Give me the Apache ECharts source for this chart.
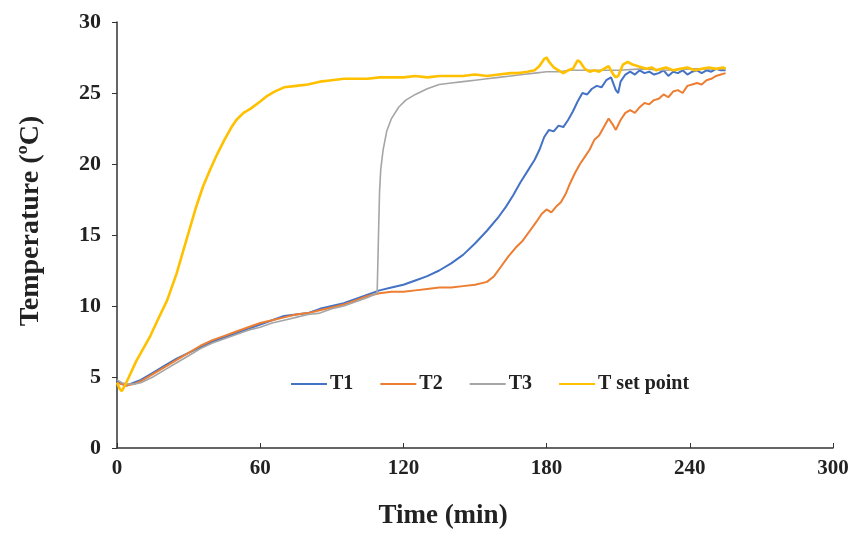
<!DOCTYPE html>
<html>
<head>
<meta charset="utf-8">
<script src="https://cdn.jsdelivr.net/npm/echarts@6/dist/echarts.min.js"></script>
<style>html,body{margin:0;padding:0;background:#fff}#c{width:856px;height:535px}</style>
</head>
<body>
<div id="c"></div>
<script>
const seriesNames = ['T1', 'T2', 'T3', 'T set point'];
const xTicks = [0, 60, 120, 180, 240, 300];
const yTicks = [0, 5, 10, 15, 20, 25, 30];

const t1Time = [0,2,4,7,10,15,20,25,30,35,40,45,50,55,60,65,70,75,80,85,90,95,100,105,110,115,120,125,130,135,140,145,150,155,160,163,166,169,172,175,177,179,181,183,185,187,189,191,193,195,197,199,201,203,205,207,209,210,211,213,215,217,219,221,223,225,227,229,231,233,235,237,239,241,243,245,247,249,251,253,255];
const t1Temp = [4.7,4.5,4.4,4.6,4.8,5.3,5.8,6.3,6.7,7.1,7.5,7.8,8.1,8.4,8.7,9.0,9.3,9.4,9.5,9.8,10.0,10.2,10.5,10.8,11.1,11.3,11.5,11.8,12.1,12.5,13.0,13.6,14.4,15.3,16.3,17.0,17.8,18.7,19.5,20.3,21.0,21.9,22.4,22.3,22.7,22.6,23.1,23.7,24.4,25.0,24.9,25.3,25.5,25.4,25.9,26.1,25.2,25.0,25.8,26.3,26.5,26.3,26.6,26.4,26.5,26.3,26.4,26.6,26.2,26.5,26.4,26.6,26.3,26.5,26.6,26.4,26.6,26.5,26.7,26.6,26.6];

const t2Time = [0,2,4,7,10,15,20,25,30,35,40,45,50,55,60,65,70,75,80,85,90,95,100,105,110,115,120,125,130,135,140,145,150,155,158,161,164,167,170,173,176,178,180,182,184,186,188,190,192,194,196,198,200,202,204,206,208,209,211,213,215,217,219,221,223,225,227,229,231,233,235,237,239,241,243,245,247,249,251,253,255];
const t2Temp = [4.6,4.5,4.4,4.5,4.7,5.2,5.7,6.2,6.7,7.2,7.6,7.9,8.2,8.5,8.8,9.0,9.2,9.4,9.5,9.7,9.9,10.1,10.4,10.7,10.9,11.0,11.0,11.1,11.2,11.3,11.3,11.4,11.5,11.7,12.1,12.8,13.5,14.1,14.6,15.3,16.0,16.5,16.8,16.6,17.0,17.3,17.9,18.7,19.4,20.0,20.5,21.0,21.7,22.0,22.6,23.2,22.7,22.4,23.1,23.6,23.8,23.6,24.0,24.3,24.2,24.5,24.6,24.9,24.7,25.1,25.2,25.0,25.5,25.6,25.7,25.6,25.9,26.0,26.2,26.3,26.4];

const t3Time = [0,2,4,7,10,15,20,25,30,35,40,45,50,55,60,65,70,75,80,85,90,95,100,105,109,109.5,110,110.5,111.5,113,115,118,121,125,130,135,140,145,150,155,160,165,170,175,180,185,190,200,210,220,230,240,250,255];
const t3Temp = [4.8,4.6,4.5,4.5,4.6,5.0,5.5,6.0,6.5,7.0,7.4,7.7,8.0,8.3,8.5,8.8,9.0,9.2,9.4,9.5,9.8,10.0,10.3,10.6,10.9,14.5,18.0,19.6,21.0,22.3,23.2,24.0,24.5,24.9,25.3,25.6,25.7,25.8,25.9,26.0,26.1,26.2,26.3,26.4,26.5,26.5,26.6,26.6,26.6,26.7,26.6,26.7,26.7,26.7];

const tsTime = [0,1,2,3,5,8,11,14,17,21,25,29,33,36,39,42,45,48,50,53,56,60,63,66,70,75,80,85,90,95,100,105,110,115,120,125,130,135,140,145,150,155,160,165,168,172,175,177,179,180,181,183,185,187,189,191,192,193,194,196,198,200,202,204,206,207,208,209,210,211,212,214,216,218,220,222,224,226,228,230,233,236,239,242,245,248,251,254,255];
const tsTemp = [4.6,4.2,4.0,4.3,5.0,6.1,7.0,7.9,9.0,10.4,12.3,14.6,16.9,18.4,19.6,20.7,21.7,22.6,23.1,23.6,23.9,24.4,24.8,25.1,25.4,25.5,25.6,25.8,25.9,26.0,26.0,26.0,26.1,26.1,26.1,26.2,26.1,26.2,26.2,26.2,26.3,26.2,26.3,26.4,26.4,26.5,26.6,26.9,27.4,27.5,27.2,26.8,26.6,26.4,26.6,26.7,27.0,27.3,27.2,26.7,26.5,26.6,26.5,26.7,26.9,26.6,26.3,26.1,26.2,26.6,27.0,27.2,27.0,26.9,26.8,26.7,26.8,26.6,26.7,26.8,26.6,26.7,26.8,26.6,26.7,26.8,26.7,26.8,26.7];

const colors = ['#4472C4', '#ED7D31', '#A5A5A5', '#FFC000'];
const widths = [2, 2, 1.6, 2.6];

function pairs(ts, vs) { return ts.map((t, i) => [t, vs[i]]); }
const allData = [pairs(t1Time, t1Temp), pairs(t2Time, t2Temp), pairs(t3Time, t3Temp), pairs(tsTime, tsTemp)];

const serif = '"Liberation Serif", "Times New Roman", serif';
const chart = echarts.init(document.getElementById('c'), null, {renderer: 'canvas'});
chart.setOption({
  animation: false,
  backgroundColor: '#ffffff',
  grid: {left: 117, right: 23, top: 22, bottom: 83, containLabel: false},
  legend: {
    data: seriesNames,
    icon: 'rect',
    left: 286, top: 369,
    itemWidth: 36, itemHeight: 2, itemGap: 27,
    textStyle: {fontFamily: serif, fontWeight: 'bold', fontSize: 20, color: '#222', padding: [0, 0, 0, -2]}
  },
  xAxis: {
    type: 'value', min: xTicks[0], max: xTicks[xTicks.length - 1], interval: 60,
    name: 'Time (min)', nameLocation: 'middle', nameGap: 55,
    nameTextStyle: {fontFamily: serif, fontWeight: 'bold', fontSize: 27, color: '#222', padding: [0, 64, 0, 0]},
    axisLine: {lineStyle: {color: '#333', width: 1.5}},
    axisTick: {show: true, inside: true, length: 5, lineStyle: {color: '#333'}},
    axisLabel: {fontFamily: serif, fontWeight: 'bold', fontSize: 21, color: '#222', margin: 10},
    splitLine: {show: false}
  },
  yAxis: {
    type: 'value', min: yTicks[0], max: yTicks[yTicks.length - 1], interval: 5,
    name: 'Temperature (ºC)', nameLocation: 'middle', nameGap: 72,
    nameTextStyle: {fontFamily: serif, fontWeight: 'bold', fontSize: 28, color: '#222', padding: [0, 0, 0, 28]},
    axisLine: {show: true, lineStyle: {color: '#333', width: 1.5}},
    axisTick: {show: true, length: 5, lineStyle: {color: '#333'}},
    axisLabel: {fontFamily: serif, fontWeight: 'bold', fontSize: 22, color: '#222', margin: 16},
    splitLine: {show: false}
  },
  series: seriesNames.map((n, i) => ({
    name: n, type: 'line', data: allData[i], symbol: 'none', showSymbol: false,
    color: colors[i], lineStyle: {color: colors[i], width: widths[i]}, z: 2 + i
  }))
});
</script>
</body>
</html>
